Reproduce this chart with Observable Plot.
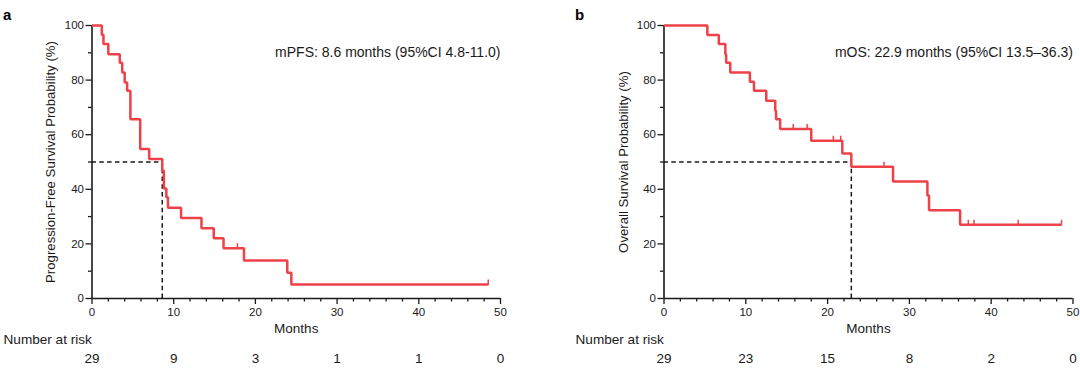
<!DOCTYPE html>
<html>
<head>
<meta charset="utf-8">
<script src="https://cdn.jsdelivr.net/npm/d3@7"></script>
<script src="https://cdn.jsdelivr.net/npm/@observablehq/plot@0.6"></script>
<style>
  html, body { margin: 0; padding: 0; background: #fff; }
  #wrap { display: flex; width: 1080px; height: 368px; }
</style>
</head>
<body>
<div id="wrap"></div>
<script>
// ---- Panel a: progression-free survival (step curve)
const pfsTime = [0, 1.2, 1.4, 2.0, 3.4, 3.7, 4.0, 4.3, 4.7, 5.9, 7.0, 8.6, 8.8, 9.1, 9.3, 10.9, 13.4, 14.9, 16.1, 18.6, 23.9, 24.4, 48.5];
const pfsSurv = [100, 96.6, 93.2, 89.5, 86.4, 82.8, 79.1, 76.1, 65.7, 54.8, 51.1, 46.8, 40.3, 37.1, 33.2, 29.5, 25.7, 22.1, 18.4, 13.9, 9.4, 5.1, 5.1];
const pfsCensor = [17.8, 48.5];
const pfsMedian = 8.6;
const pfsRisk = [29, 9, 3, 1, 1, 0];
const pfsNote = "mPFS: 8.6 months (95%CI 4.8-11.0)";
const pfsYLabel = "Progression-Free Survival Probability (%)";

// ---- Panel b: overall survival
const osTime = [0, 5.3, 6.7, 7.5, 7.6, 8.1, 10.5, 11.0, 12.5, 13.6, 13.7, 14.2, 18.0, 21.8, 22.9, 28.0, 32.2, 32.4, 36.2, 48.6];
const osSurv = [100, 96.5, 93.2, 89.5, 86.4, 82.8, 79.4, 76.1, 72.4, 68.8, 65.7, 62.1, 57.8, 53.1, 48.3, 42.9, 37.7, 32.3, 27.0, 27.0];
const osCensor = [15.8, 17.5, 20.7, 21.6, 26.9, 37.2, 37.9, 43.3, 48.6];
const osMedian = 22.9;
const osRisk = [29, 23, 15, 8, 2, 0];
const osNote = "mOS: 22.9 months (95%CI 13.5\u201336.3)";
const osYLabel = "Overall Survival Probability (%)";

// ---- shared ticks
const riskTimes = [0, 10, 20, 30, 40, 50];
const xMajor = [0, 10, 20, 30, 40, 50];
const xMinor = [2, 4, 6, 8, 12, 14, 16, 18, 22, 24, 26, 28, 32, 34, 36, 38, 42, 44, 46, 48];
const yMajor = [0, 20, 40, 60, 80, 100];
const yMinor = [10, 30, 50, 70, 90];

const RED = "#ee4148";
const INK = "#1a1a1a";
const FONT = "'Liberation Sans', Arial, Helvetica, sans-serif";

const censorSymbol = {
  draw(ctx) { ctx.moveTo(0, 0.5); ctx.lineTo(0, -5); }
};

function survAt(times, surv, t) {
  let v = surv[0];
  for (let i = 0; i < times.length; i++) if (times[i] <= t) v = surv[i];
  return v;
}

function panel({letter, times, surv, censor, median, risk, note, ylab, marginLeft, marginRight, ylabDx}) {
  const curve = times.map((t, i) => ({t, s: surv[i]}));
  const cens = censor.map(t => ({t, s: survAt(times, surv, t)}));
  return Plot.plot({
    width: 540,
    height: 368,
    marginLeft,
    marginRight,
    marginTop: 25,
    marginBottom: 70,
    style: {fontFamily: FONT, fontSize: "11px", color: INK, background: "#fff", overflow: "visible"},
    x: {domain: [0, 50]},
    y: {domain: [0, 100]},
    marks: [
      // median guides
      Plot.ruleY([50], {x1: 0, x2: median, stroke: INK, strokeWidth: 1.5, strokeDasharray: "4.5,3.3"}),
      Plot.ruleX([median], {y1: 0, y2: 50, stroke: INK, strokeWidth: 1.5, strokeDasharray: "4.5,3.3"}),
      // axes
      Plot.axisX({ticks: xMinor, tickSize: 3.5, text: null, label: null, strokeWidth: 1.3, stroke: INK}),
      Plot.axisX({ticks: xMajor, tickSize: 6, tickPadding: 3, label: null, fontSize: 11.5, strokeWidth: 1.3, stroke: INK, fill: INK}),
      Plot.axisY({ticks: yMinor, tickSize: 3.5, text: null, label: null, strokeWidth: 1.3, stroke: INK}),
      Plot.axisY({ticks: yMajor, tickSize: 6, tickPadding: 2, label: null, fontSize: 11.5, strokeWidth: 1.3, stroke: INK, fill: INK}),
      Plot.ruleY([0], {stroke: INK, strokeWidth: 1.6}),
      Plot.ruleX([0], {stroke: INK, strokeWidth: 1.6}),
      // curve
      Plot.line(curve, {x: "t", y: "s", curve: "step-after", stroke: RED, strokeWidth: 2.5, strokeLinejoin: "miter", strokeLinecap: "butt"}),
      Plot.dot(cens, {x: "t", y: "s", symbol: censorSymbol, stroke: RED, strokeWidth: 1.5, fill: "none"}),
      // texts
      Plot.text([note], {frameAnchor: "top-right", textAnchor: "end", dy: 22, fontSize: 14, fill: INK}),
      Plot.text([ylab], {frameAnchor: "left", textAnchor: "middle", rotate: -90, dx: ylabDx, fontSize: 13.2, fill: INK}),
      Plot.text(["Months"], {frameAnchor: "bottom", dy: 34, fontSize: 13.5, fill: INK}),
      Plot.text(["Number at risk"], {frameAnchor: "bottom-left", textAnchor: "start", dx: -88.5, dy: 45.5, fontSize: 13.6, fill: INK}),
      Plot.text(riskTimes, {x: d => d, text: (d, i) => String(risk[i]), frameAnchor: "bottom", dy: 64, fontSize: 13.5, fill: INK}),
      Plot.text([letter], {frameAnchor: "top-left", textAnchor: "start", dx: -89, dy: -16, fontSize: 15, fontWeight: "bold", fill: "#000"})
    ]
  });
}

const wrap = document.getElementById("wrap");
wrap.append(panel({
  letter: "a", times: pfsTime, surv: pfsSurv, censor: pfsCensor, median: pfsMedian,
  risk: pfsRisk, note: pfsNote, ylab: pfsYLabel, marginLeft: 91.5, marginRight: 40, ylabDx: -41.5
}));
wrap.append(panel({
  letter: "b", times: osTime, surv: osSurv, censor: osCensor, median: osMedian,
  risk: osRisk, note: osNote, ylab: osYLabel, marginLeft: 123.5, marginRight: 7.5, ylabDx: -40.5
}));
</script>
</body>
</html>
